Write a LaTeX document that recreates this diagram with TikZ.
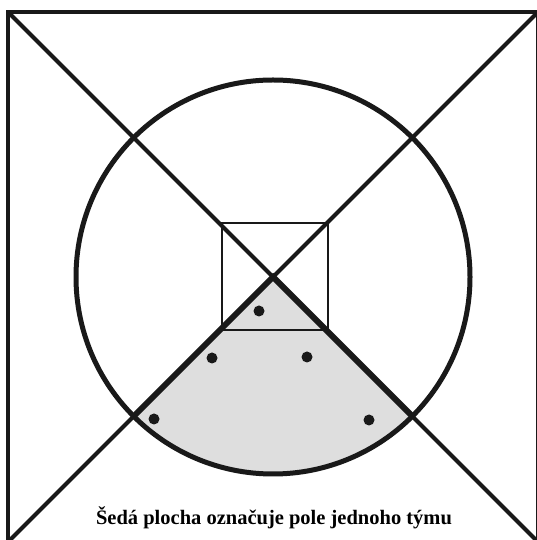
\documentclass[tikz,border=0pt]{standalone}
\usepackage{fontspec}
\setmainfont{Liberation Serif}
\usetikzlibrary{calc}
\begin{document}
\begin{tikzpicture}[x=1pt,y=1pt,
  thickline/.style={line width=4.5pt, draw=black!90},
  diagline/.style={line width=4pt, draw=black!90},
  sectoredge/.style={line width=6pt, draw=black!90},
  thinbox/.style={line width=1.8pt, draw=black!90},
  dot/.style={circle, fill=black!90, inner sep=0pt, minimum size=11pt},
  caption/.style={font=\bfseries\fontsize{20.5}{24}\selectfont, inner sep=0pt, anchor=base}]
\useasboundingbox (0,0) rectangle (537,540);
\clip (0,0) rectangle (537,540);
\coordinate (C) at (273,263);
\coordinate (TL) at (8,528);
\coordinate (TR) at (538,528);
\coordinate (BL) at (8,-2);
\coordinate (BR) at (538,-2);
\coordinate (SL) at ($(C)+(225:197)$);
\coordinate (SR) at ($(C)+(315:197)$);
% gray sector
\fill[black!13] (C) -- (SL) arc[start angle=225, end angle=315, radius=197] -- cycle;
% outer square and diagonals
\draw[thickline] (TL) rectangle (BR);
\draw[diagline] (TL) -- (BR);
\draw[diagline] (TR) -- (BL);
% circle
\draw[thickline, line width=5pt] (C) circle[radius=197];
% inner square
\draw[thinbox] (222,210) rectangle (328,317);
% thick sector edges
\draw[sectoredge] (SL) -- (C) -- (SR);
% dots
\node[dot] (d1) at (259,229) {};
\node[dot] (d2) at (212,182) {};
\node[dot] (d3) at (307,183) {};
\node[dot] (d4) at (154,121) {};
\node[dot] (d5) at (369,120) {};
% caption
\node[caption] (cap) at (274,16) {Šedá plocha označuje pole jednoho týmu};
\end{tikzpicture}
\end{document}
